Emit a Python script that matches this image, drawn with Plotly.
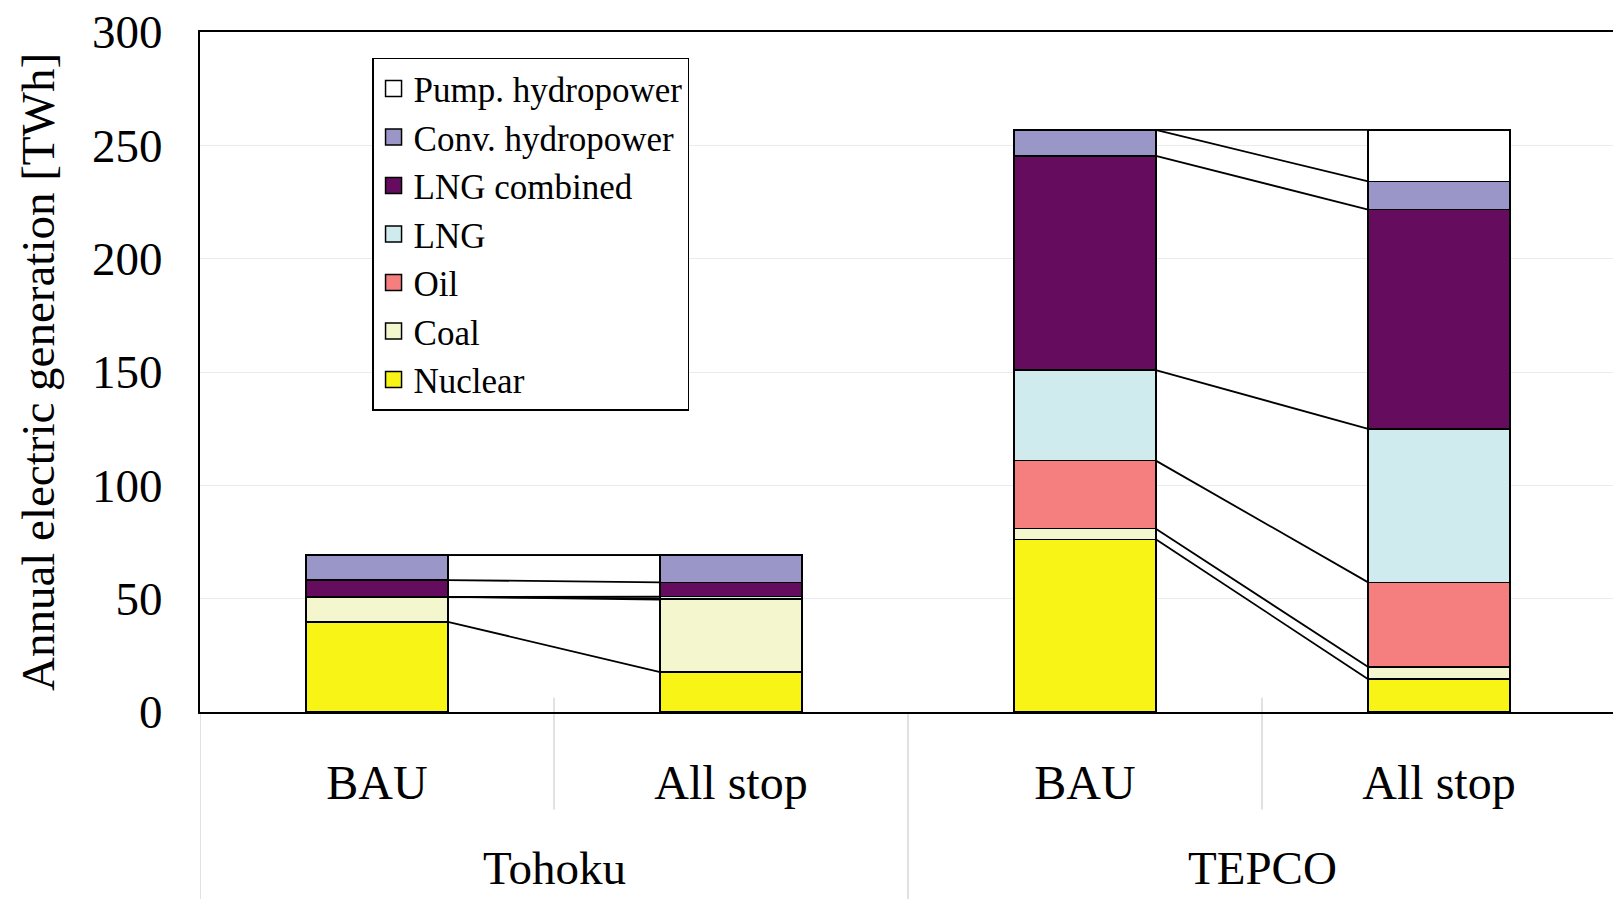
import plotly.graph_objects as go

regions = ["Tohoku", "TEPCO"]
scenarios = ["BAU", "All stop", "BAU", "All stop"]
bar_pos = [0, 1, 2, 3]

sources = ["Nuclear", "Coal", "Oil", "LNG", "LNG combined", "Conv. hydropower", "Pump. hydropower"]
nuclear = [39.8, 17.6, 76.2, 14.5]
coal = [11.0, 32.0, 4.7, 5.3]
oil = [0.0, 0.5, 30.0, 37.4]
lng = [0.0, 0.8, 39.9, 67.7]
lng_combined = [7.4, 6.3, 94.6, 96.7]
conv_hydro = [11.0, 12.0, 11.4, 12.5]
pump_hydro = [0.0, 0.0, 0.0, 22.7]

colors = ["#F7F416", "#F4F7CE", "#F47F7E", "#CFEBEE", "#650C5E", "#9A96C8", "#FFFFFF"]

series = [nuclear, coal, oil, lng, lng_combined, conv_hydro, pump_hydro]

yticks = [0, 50, 100, 150, 200, 250, 300]

FONT = "Liberation Serif"
BAR_W = 0.4
DIV = "#C4C4C4"

fig = go.Figure()
for name, vals, col in zip(sources, series, colors):
    fig.add_trace(go.Bar(
        x=bar_pos, y=vals, name=name,
        marker=dict(color=col, line=dict(color="black", width=1.5)),
        width=BAR_W, showlegend=False,
    ))

# connector lines between BAU and All stop of each region (cumulative tops)
cum = [0.0] * 4
for vals in series:
    cum = [c + v for c, v in zip(cum, vals)]
    for i0 in (0, 2):
        fig.add_trace(go.Scatter(
            x=[bar_pos[i0] + BAR_W / 2, bar_pos[i0 + 1] - BAR_W / 2], y=[cum[i0], cum[i0 + 1]],
            mode="lines", line=dict(color="black", width=1.8),
            showlegend=False, hoverinfo="skip",
        ))

# legend entries (larger square swatches)
for name, col in zip(sources, colors):
    fig.add_trace(go.Scatter(
        x=[None], y=[None], name=name, mode="markers",
        marker=dict(symbol="square", size=16, color=col, line=dict(color="black", width=1.5)),
        showlegend=True,
    ))

# category dividers below the axis
for xb in (-0.5, 1.5, 3.5):
    fig.add_shape(type="line", xref="x", yref="paper", x0=xb, x1=xb, y0=0, y1=-0.28,
                  line=dict(color=DIV, width=1), layer="below")
for xb in (0.5, 2.5):
    fig.add_shape(type="line", xref="x", yref="paper", x0=xb, x1=xb, y0=0.021, y1=-0.1435,
                  line=dict(color=DIV, width=1), layer="below")

# region labels
for i, r in enumerate(regions):
    fig.add_annotation(x=bar_pos[2 * i] + 0.5, y=-0.229, xref="x", yref="paper",
                       text=r, showarrow=False, yanchor="middle", xanchor="center",
                       font=dict(family=FONT, size=47, color="black"))

fig.update_layout(
    width=1613, height=891,
    barmode="stack",
    plot_bgcolor="white", paper_bgcolor="white",
    margin=dict(l=192, r=5, t=24, b=187),
    font=dict(family=FONT, color="black", size=48),
    showlegend=True,
    legend=dict(
        x=0.1215, y=0.962, xanchor="left", yanchor="top",
        traceorder="reversed",
        bordercolor="black", borderwidth=1.5,
        bgcolor="white",
        font=dict(family=FONT, size=35),
        itemwidth=30,
        tracegroupgap=0,
    ),
    xaxis=dict(
        range=[-0.5, 3.5], tickvals=bar_pos, ticktext=scenarios,
        showline=True, linecolor="black", linewidth=2, mirror=True,
        ticks="", ticklabelstandoff=27,
        tickfont=dict(family=FONT, size=48),
        showgrid=False, zeroline=False, automargin=False,
        ticklabeloverflow="allow",
    ),
    yaxis=dict(
        range=[0, 300], tickvals=yticks,
        showline=True, linecolor="black", linewidth=2, mirror=True,
        showgrid=True, gridcolor="#EBEBEB", gridwidth=1,
        ticks="", tickfont=dict(family=FONT, size=47), ticklabelstandoff=26,
        ticklabeloverflow="allow",
        title=dict(text="Annual electric generation [TWh]", font=dict(family=FONT, size=47), standoff=23),
        zeroline=False, automargin=False,
    ),
)

fig.write_html("out.html")
